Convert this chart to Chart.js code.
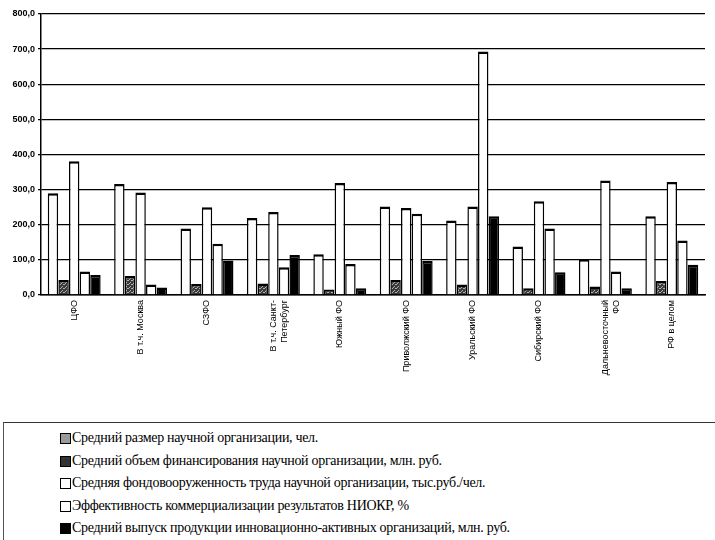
<!DOCTYPE html>
<html>
<head>
<meta charset="utf-8">
<script src="https://cdn.jsdelivr.net/npm/chart.js@4/dist/chart.umd.min.js"></script>
<style>
  html, body { margin: 0; padding: 0; background: #fff; width: 715px; height: 540px; overflow: hidden; }
  #wrap { position: absolute; left: 0; top: 0; width: 715px; height: 410px; }
  #legend { position: absolute; left: 3px; top: 422px; width: 720px; height: 130px;
            border-top: 1px solid #333; border-left: 1px solid #555; box-sizing: border-box;
            font-family: 'Liberation Serif', serif; font-size: 14px; letter-spacing: -0.3px; color: #000; }
  .item { position: absolute; left: 56px; height: 18px; line-height: 18px; white-space: nowrap; }
  .box { position: absolute; left: 0; top: 4px; width: 9px; height: 9px; border: 1px solid #000; box-sizing: content-box; }
  .txt { position: absolute; left: 12px; top: 0; }
</style>
</head>
<body>
<div id="wrap"><canvas id="c" width="715" height="410"></canvas></div>
<div id="legend"></div>
<script>
const categories = [
  "ЦФО",
  "В т.ч. Москва",
  "СЗФО",
  ["В т.ч. Санкт-", "Петербург"],
  "Южный ФО",
  "Приволжский ФО",
  "Уральский ФО",
  "Сибирский ФО",
  ["Дальневосточный", "ФО"],
  "РФ в целом"
];
const seriesNames = [
  "Средний размер научной организации, чел.",
  "Средний объем финансирования научной организации, млн. руб.",
  "Средняя фондовооруженность труда научной организации, тыс.руб./чел.",
  "Эффективность коммерциализации результатов НИОКР, %",
  "Средний выпуск продукции инновационно-активных организаций, млн. руб."
];
const sizeValues      = [290, 316, 189, 219, 116, 252, 212, 138, 102, 224];
const financeValues   = [43, 54, 31, 33, 16, 43, 30, 19, 24, 40];
const equipValues     = [381, 292, 250, 236, 319, 248, 252, 267, 326, 322];
const efficiencyValues= [67, 30, 146, 79, 88, 231, 693, 189, 67, 155];
const outputValues    = [57, 21, 98, 114, 19, 97, 224, 65, 19, 86];
const yTicks = [0, 100, 200, 300, 400, 500, 600, 700, 800];

function makePattern(base, dot) {
  const p = document.createElement('canvas');
  p.width = 4; p.height = 4;
  const g = p.getContext('2d');
  g.fillStyle = base; g.fillRect(0, 0, 4, 4);
  g.fillStyle = dot;
  g.fillRect(0, 0, 1, 1); g.fillRect(2, 2, 1, 1); g.fillRect(3, 0, 1, 1); g.fillRect(1, 3, 1, 1);
  return g.createPattern(p, 'repeat');
}
const ctx = document.getElementById('c').getContext('2d');
const darkPat = makePattern('#3a3a3a', '#b0b0b0');
const fills = ['#fbfbfb', darkPat, '#ffffff', '#ffffff', '#000000'];
const legendFills = ['#9a9a9a', '#333333', '#ffffff', '#ffffff', '#000000'];
const allValues = [sizeValues, financeValues, equipValues, efficiencyValues, outputValues];

const datasets = allValues.map((vals, i) => ({
  label: seriesNames[i],
  data: vals,
  backgroundColor: fills[i],
  borderColor: '#000',
  borderWidth: {top: 2.5, left: 1.5, right: 1.5, bottom: 0},
  borderSkipped: 'bottom',
  categoryPercentage: 0.8,
  barPercentage: 0.98
}));

new Chart(ctx, {
  type: 'bar',
  data: { labels: categories, datasets },
  options: {
    responsive: false,
    animation: false,
    layout: { padding: { top: 14, right: 10, left: 0, bottom: 0 } },
    plugins: { legend: { display: false }, tooltip: { enabled: false } },
    scales: {
      x: {
        grid: { display: false, drawTicks: false },
        border: { display: true, color: '#000', width: 1.5 },
        ticks: {
          minRotation: 90, maxRotation: 90, autoSkip: false, padding: 5,
          color: '#000',
          font: { family: 'Liberation Sans, Arial, sans-serif', size: 9 }
        },
        afterFit: (s) => { s.height = 115; }
      },
      y: {
        min: 0, max: 800,
        afterBuildTicks: (s) => { s.ticks = yTicks.map(v => ({ value: v })); },
        grid: { color: '#000', lineWidth: 1.3, tickLength: 3, tickColor: '#000' },
        border: { display: true, color: '#000', width: 1.5 },
        ticks: {
          padding: 3, color: '#000',
          font: { family: 'Liberation Sans, Arial, sans-serif', size: 9, weight: 'bold' },
          callback: (v) => Number(v).toFixed(1).replace('.', ',')
        },
        afterFit: (s) => { s.width = 41; }
      }
    }
  }
});

const leg = document.getElementById('legend');
const rowTops = [6, 28.5, 51, 73.5, 96];
seriesNames.forEach((name, i) => {
  const it = document.createElement('div');
  it.className = 'item';
  it.style.top = rowTops[i] + 'px';
  const b = document.createElement('span');
  b.className = 'box';
  b.style.background = legendFills[i];
  const t = document.createElement('span');
  t.className = 'txt';
  t.textContent = name;
  it.appendChild(b); it.appendChild(t);
  leg.appendChild(it);
});
</script>
</body>
</html>
